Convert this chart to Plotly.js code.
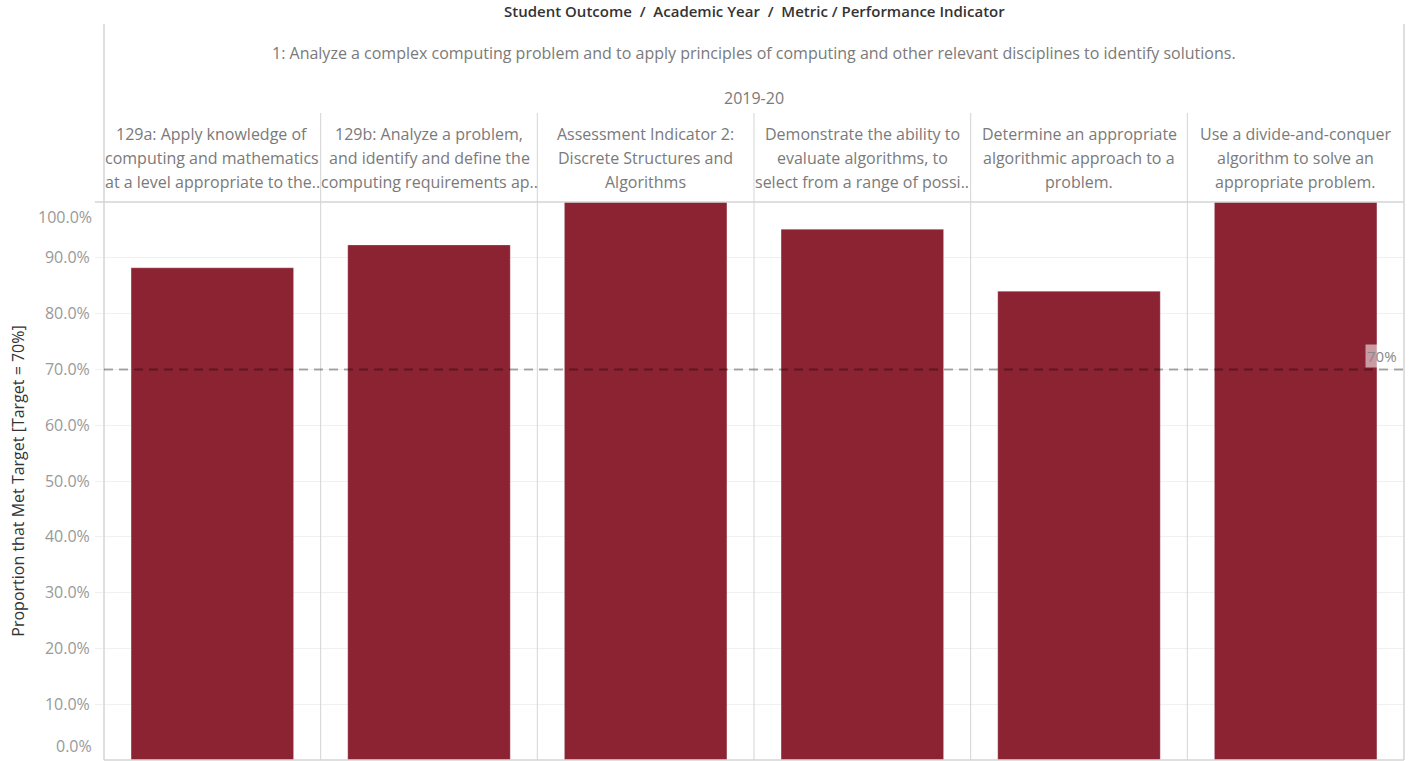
<!DOCTYPE html>
<html>
<head>
<meta charset="utf-8">
<script src="https://cdn.plot.ly/plotly-3.0.1.min.js"></script>
<style>html,body{margin:0;padding:0;background:#fff;}#chart{width:1413px;height:761px;}</style>
</head>
<body>
<div id="chart"></div>
<script>
// ---- data ----
const chartTitle = "Student Outcome  /  Academic Year  /  Metric / Performance Indicator";
const studentOutcome = "1: Analyze a complex computing problem and to apply principles of computing and other relevant disciplines to identify solutions.";
const academicYear = "2019-20";
const categories = ["129a", "129b", "AI2", "Demonstrate", "Determine", "Divide"];
const headerLine1 = ["129a: Apply knowledge of", "129b: Analyze a problem,", "Assessment Indicator 2:", "Demonstrate the ability to", "Determine an appropriate", "Use a divide-and-conquer"];
const headerLine2 = ["computing and mathematics", "and identify and define the", "Discrete Structures and", "evaluate algorithms, to", "algorithmic approach to a", "algorithm to solve an"];
const headerLine3 = ["at a level appropriate to the..", "computing requirements ap..", "Algorithms", "select from a range of possi..", "problem.", "appropriate problem."];
const proportionMet = [0.882, 0.923, 1.0, 0.951, 0.840, 1.0];
const targetValue = 0.70;
const targetLabel = "70%";
const yTickVals = [0.1, 0.2, 0.3, 0.4, 0.5, 0.6, 0.7, 0.8, 0.9];
const yAxisTitle = "Proportion that Met Target [Target = 70%]";

// ---- style ----
const FONT = "'Open Sans', 'Noto Sans', sans-serif";
const barColor = "#8B2333";
const textGray = "#7a7a7a";
const lineGray = "#d4d4d4";

const plotTopPx = 202, plotBottomPx = 760;
const plotH = plotBottomPx - plotTopPx;
const py = (px) => (plotBottomPx - px) / plotH; // paper y from pixel row

const annotations = [];
annotations.push({xref: "paper", yref: "paper", x: 0.5, y: py(11), text: chartTitle, showarrow: false,
  xanchor: "center", yanchor: "middle", font: {family: FONT, size: 15, color: "#333", weight: 600}});
annotations.push({xref: "paper", yref: "paper", x: 0.5, y: py(53), text: studentOutcome, showarrow: false,
  xanchor: "center", yanchor: "middle", font: {family: FONT, size: 16, color: textGray}});
annotations.push({xref: "paper", yref: "paper", x: 0.5, y: py(98), text: academicYear, showarrow: false,
  xanchor: "center", yanchor: "middle", font: {family: FONT, size: 16, color: textGray}});
const lines = [headerLine1, headerLine2, headerLine3];
const lineY = [134, 158, 182];
categories.forEach((c, i) => {
  lines.forEach((arr, k) => {
    annotations.push({xref: "x", yref: "paper", x: c, y: py(lineY[k]), text: arr[i], showarrow: false,
      xanchor: "center", yanchor: "middle", font: {family: FONT, size: 16, color: textGray}});
  });
});
// end tick labels (Tableau keeps them inside the pane)
annotations.push({xref: "paper", yref: "y", x: 0, y: 0, xshift: -10, text: "0.0%", showarrow: false,
  xanchor: "right", yanchor: "bottom", yshift: 1, font: {family: FONT, size: 16, color: "#999"}});
annotations.push({xref: "paper", yref: "y", x: 0, y: 1, xshift: -10, text: "100.0%", showarrow: false,
  xanchor: "right", yanchor: "top", yshift: -2, font: {family: FONT, size: 16, color: "#999"}});
// target label
annotations.push({xref: "paper", yref: "y", x: 1, y: targetValue, text: targetLabel, showarrow: false,
  xanchor: "right", yanchor: "bottom", xshift: -5, yshift: 1, bgcolor: "rgba(255,255,255,0.55)",
  font: {family: FONT, size: 15, color: "#888"}});

const shapes = [];
// column dividers
for (let i = 0; i < categories.length - 1; i++) {
  shapes.push({type: "line", xref: "x", yref: "paper", x0: i + 0.5, x1: i + 0.5, y0: 0, y1: py(113),
    line: {color: lineGray, width: 1}});
}
// outer borders
shapes.push({type: "line", xref: "paper", yref: "paper", x0: 0, x1: 0, y0: 0, y1: py(24), line: {color: lineGray, width: 1.5}});
shapes.push({type: "line", xref: "paper", yref: "paper", x0: 1, x1: 1, y0: 0, y1: py(24), line: {color: lineGray, width: 1.5}});
shapes.push({type: "line", xref: "paper", yref: "paper", x0: -0.007, x1: 1, y0: 1, y1: 1, line: {color: lineGray, width: 1.5}});
shapes.push({type: "line", xref: "paper", yref: "paper", x0: 0, x1: 1, y0: 0, y1: 0, line: {color: lineGray, width: 1.5}});
// target reference line
shapes.push({type: "line", xref: "paper", yref: "y", x0: 0, x1: 1, y0: targetValue, y1: targetValue, layer: "above",
  line: {color: "rgba(0,0,0,0.33)", width: 2, dash: "9px,6px"}});

const trace = {
  type: "bar",
  x: categories,
  y: proportionMet,
  width: 0.75,
  marker: {color: barColor, line: {color: "rgba(255,255,255,0.25)", width: 1}},
  hoverinfo: "x+y"
};

const layout = {
  width: 1413, height: 761,
  margin: {l: 104, r: 9, t: plotTopPx, b: 1, pad: 0},
  paper_bgcolor: "#fff", plot_bgcolor: "#fff",
  showlegend: false,
  font: {family: FONT},
  xaxis: {type: "category", range: [-0.5, categories.length - 0.5], showticklabels: false, showgrid: false,
    zeroline: false, showline: false, fixedrange: true},
  yaxis: {range: [0, 1.0], tickvals: yTickVals, tickformat: ".1%", showgrid: true, gridcolor: "#f0f0f0", gridwidth: 1,
    zeroline: false, showline: false, ticks: "outside", ticklen: 8, tickcolor: "#f0f0f0",
    tickfont: {family: FONT, size: 16, color: "#999"}, ticklabelstandoff: 2,
    title: {text: yAxisTitle, font: {family: FONT, size: 16, color: "#333"}, standoff: 16}, fixedrange: true},
  annotations: annotations,
  shapes: shapes,
  bargap: 0.25
};

Plotly.newPlot("chart", [trace], layout, {displayModeBar: false, staticPlot: true});
</script>
</body>
</html>
